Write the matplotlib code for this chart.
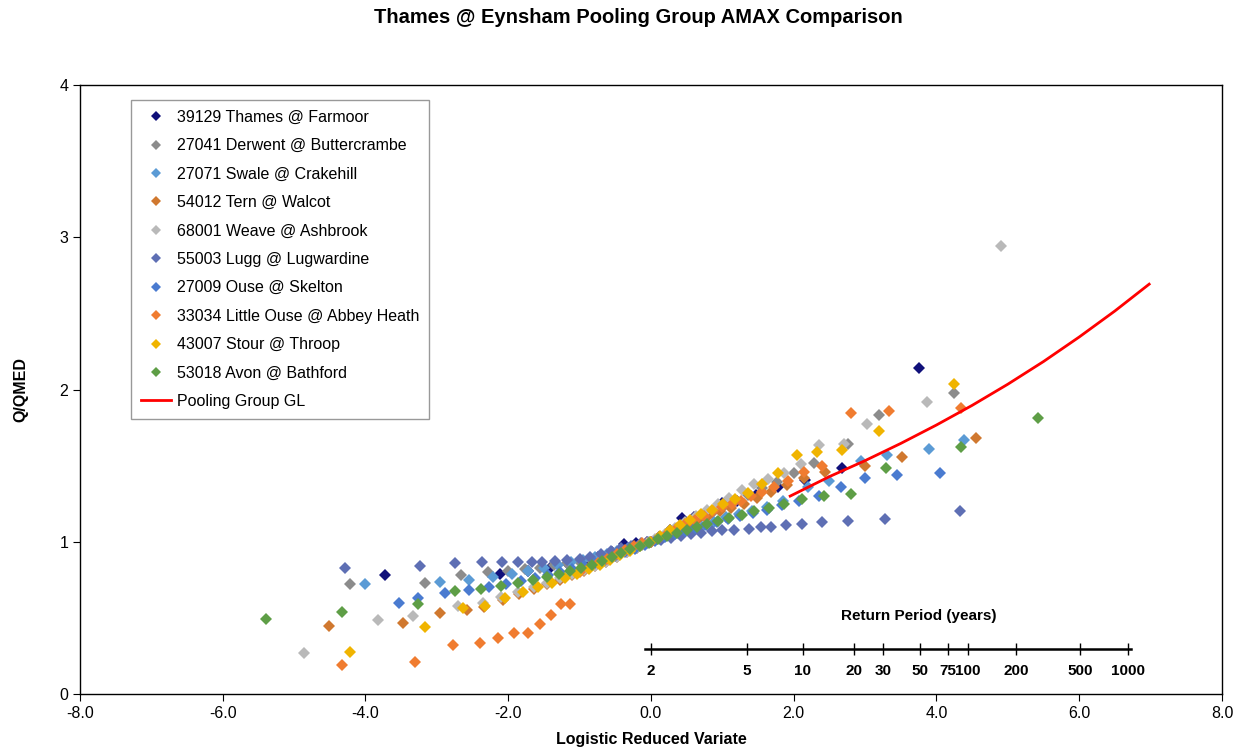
import numpy as np
import matplotlib
matplotlib.use("Agg")
import matplotlib.pyplot as plt
from matplotlib.ticker import FormatStrFormatter

plt.rcParams['font.family'] = ['Liberation Sans', 'DejaVu Sans']

# AMAX growth factors (Q/QMED) against logistic reduced variate, one list pair per site
thames_x = [-3.73, -2.11, -1.72, -1.42, -1.16, -0.94, -0.74, -0.55, -0.38, -0.21, -0.05, 0.11,
            0.27, 0.43, 0.60, 0.78, 0.99, 1.21, 1.47, 1.78, 2.16, 2.68, 3.75]
thames_y = [0.78, 0.787, 0.81, 0.83, 0.855, 0.87, 0.90, 0.93, 0.985, 0.99, 1.0, 1.03,
            1.08, 1.159, 1.16, 1.20, 1.254, 1.27, 1.305, 1.36, 1.408, 1.486, 2.14]

derwent_x = [-4.21, -3.17, -2.66, -2.29, -2.0, -1.76, -1.55, -1.36, -1.18, -1.01, -0.85, -0.7,
             -0.55, -0.41, -0.27, -0.13, 0.0, 0.13, 0.27, 0.41, 0.55, 0.7, 0.85, 1.01,
             1.18, 1.36, 1.55, 1.76, 2.0, 2.29, 2.76, 3.20, 4.24]
derwent_y = [0.721, 0.726, 0.78, 0.80, 0.81, 0.82, 0.83, 0.845, 0.86, 0.875, 0.89, 0.905,
             0.92, 0.94, 0.96, 0.98, 1.0, 1.03, 1.06, 1.09, 1.12, 1.16, 1.19, 1.23,
             1.27, 1.31, 1.35, 1.39, 1.45, 1.52, 1.643, 1.83, 1.98]

swale_x = [-4.01, -2.96, -2.55, -2.22, -1.95, -1.72, -1.5, -1.3, -1.12, -0.95, -0.78, -0.62,
           -0.47, -0.32, -0.17, -0.03, 0.12, 0.26, 0.41, 0.56, 0.72, 0.88, 1.05, 1.23,
           1.42, 1.62, 1.85, 2.2, 2.5, 2.94, 3.31, 3.89, 4.39]
swale_y = [0.72, 0.736, 0.75, 0.77, 0.79, 0.81, 0.83, 0.85, 0.865, 0.88, 0.90, 0.92,
           0.94, 0.96, 0.98, 1.0, 1.02, 1.04, 1.06, 1.08, 1.10, 1.13, 1.16, 1.18,
           1.20, 1.23, 1.27, 1.36, 1.40, 1.53, 1.57, 1.61, 1.67]

tern_x = [-4.51, -3.47, -2.95, -2.58, -2.34, -2.08, -1.85, -1.64, -1.45, -1.27, -1.1, -0.94,
          -0.78, -0.63, -0.48, -0.34, -0.2, -0.06, 0.08, 0.22, 0.36, 0.5, 0.65, 0.8,
          0.96, 1.12, 1.3, 1.48, 1.68, 1.9, 2.15, 2.44, 3.0, 3.51, 4.56]
tern_y = [0.446, 0.464, 0.53, 0.55, 0.572, 0.62, 0.66, 0.69, 0.72, 0.75, 0.78, 0.81,
          0.84, 0.87, 0.9, 0.93, 0.96, 0.99, 1.02, 1.05, 1.08, 1.11, 1.14, 1.17,
          1.2, 1.22, 1.25, 1.29, 1.33, 1.37, 1.42, 1.46, 1.495, 1.56, 1.683]

weave_x = [-4.86, -3.83, -3.33, -2.70, -2.36, -2.1, -1.86, -1.64, -1.45, -1.27, -1.1, -0.94,
           -0.78, -0.63, -0.48, -0.34, -0.2, -0.06, 0.06, 0.2, 0.34, 0.48, 0.63, 0.78,
           0.94, 1.1, 1.27, 1.45, 1.64, 1.86, 2.1, 2.36, 2.7, 3.02, 3.87, 4.91]
weave_y = [0.267, 0.485, 0.51, 0.577, 0.60, 0.64, 0.67, 0.70, 0.73, 0.76, 0.79, 0.815,
           0.84, 0.87, 0.9, 0.93, 0.96, 0.99, 1.02, 1.05, 1.09, 1.13, 1.17, 1.21,
           1.25, 1.29, 1.34, 1.38, 1.41, 1.45, 1.508, 1.633, 1.643, 1.775, 1.92, 2.94]

lugg_x = [-4.29, -3.23, -2.74, -2.37, -2.09, -1.86, -1.67, -1.52, -1.35, -1.17, -0.99, -0.85,
          -0.7, -0.56, -0.42, -0.28, -0.14, 0.0, 0.14, 0.28, 0.42, 0.56, 0.7, 0.85,
          0.99, 1.17, 1.38, 1.54, 1.68, 1.89, 2.12, 2.40, 2.76, 3.28, 4.33]
lugg_y = [0.831, 0.84, 0.861, 0.868, 0.868, 0.87, 0.87, 0.87, 0.875, 0.88, 0.89, 0.90,
          0.92, 0.94, 0.96, 0.975, 0.99, 1.0, 1.01, 1.025, 1.04, 1.05, 1.06, 1.07,
          1.075, 1.08, 1.087, 1.097, 1.10, 1.108, 1.117, 1.13, 1.137, 1.15, 1.20]

ouse_x = [-3.53, -3.27, -2.89, -2.55, -2.27, -2.03, -1.82, -1.62, -1.44, -1.27, -1.1, -0.94,
          -0.79, -0.64, -0.5, -0.36, -0.22, -0.08, 0.06, 0.2, 0.34, 0.48, 0.62, 0.77,
          0.92, 1.08, 1.25, 1.43, 1.62, 1.84, 2.08, 2.36, 2.66, 3.0, 3.45, 4.05]
ouse_y = [0.60, 0.63, 0.664, 0.68, 0.70, 0.72, 0.74, 0.76, 0.78, 0.8, 0.82, 0.84,
          0.86, 0.88, 0.905, 0.93, 0.955, 0.98, 1.005, 1.03, 1.05, 1.07, 1.09, 1.11,
          1.13, 1.15, 1.17, 1.19, 1.21, 1.24, 1.27, 1.3, 1.36, 1.42, 1.44, 1.45]

little_ouse_x = [-4.33, -3.30, -2.77, -2.40, -2.15, -1.92, -1.73, -1.55, -1.40, -1.26, -1.13,
                 -1.0, -0.87, -0.74, -0.61, -0.48, -0.36, -0.24, -0.12, 0.0, 0.12, 0.24,
                 0.36, 0.48, 0.61, 0.74, 0.87, 1.0, 1.13, 1.26, 1.4, 1.55, 1.73, 1.92,
                 2.15, 2.4, 2.8, 3.33, 4.35]
little_ouse_y = [0.19, 0.212, 0.321, 0.336, 0.365, 0.40, 0.40, 0.46, 0.518, 0.59, 0.593,
                 0.80, 0.83, 0.86, 0.89, 0.92, 0.945, 0.97, 0.99, 1.0, 1.03, 1.06,
                 1.09, 1.12, 1.14, 1.17, 1.2, 1.23, 1.25, 1.27, 1.3, 1.33, 1.36, 1.40,
                 1.46, 1.50, 1.845, 1.862, 1.88]

stour_x = [-4.21, -3.17, -2.64, -2.33, -2.05, -1.8, -1.58, -1.38, -1.2, -1.03, -0.87, -0.72,
           -0.57, -0.43, -0.29, -0.15, -0.01, 0.13, 0.27, 0.41, 0.55, 0.7, 0.85, 1.01,
           1.18, 1.36, 1.55, 1.78, 2.04, 2.32, 2.68, 3.20, 4.24]
stour_y = [0.277, 0.437, 0.562, 0.58, 0.63, 0.67, 0.70, 0.73, 0.76, 0.79, 0.82, 0.85,
           0.88, 0.91, 0.94, 0.97, 1.0, 1.04, 1.08, 1.11, 1.14, 1.18, 1.21, 1.25,
           1.28, 1.32, 1.38, 1.45, 1.567, 1.589, 1.60, 1.727, 2.033]

avon_x = [-5.40, -4.33, -3.27, -2.75, -2.38, -2.1, -1.86, -1.65, -1.46, -1.29, -1.13, -0.98,
          -0.83, -0.69, -0.55, -0.42, -0.29, -0.16, -0.03, 0.1, 0.23, 0.36, 0.5, 0.64,
          0.79, 0.94, 1.1, 1.27, 1.45, 1.65, 1.87, 2.12, 2.42, 2.80, 3.29, 4.35, 5.42]
avon_y = [0.496, 0.54, 0.59, 0.677, 0.69, 0.71, 0.73, 0.75, 0.77, 0.79, 0.81, 0.83,
          0.85, 0.875, 0.9, 0.925, 0.95, 0.97, 0.995, 1.015, 1.035, 1.055, 1.075, 1.095,
          1.115, 1.135, 1.155, 1.175, 1.2, 1.22, 1.25, 1.28, 1.3, 1.316, 1.484, 1.62, 1.81]

# pooling group GL growth curve
gl_x = [1.95, 2.5, 3.0, 3.5, 4.0, 4.5, 5.0, 5.5, 6.0, 6.5, 6.98]
gl_y = [1.30, 1.428, 1.533, 1.646, 1.767, 1.896, 2.035, 2.184, 2.345, 2.516, 2.692]

# return periods shown on the secondary scale
return_periods = [2, 5, 10, 20, 30, 50, 75, 100, 200, 500, 1000]

series = [
    ("39129 Thames @ Farmoor", thames_x, thames_y, "#10107a"),
    ("27041 Derwent @ Buttercrambe", derwent_x, derwent_y, "#8c8c8c"),
    ("27071 Swale @ Crakehill", swale_x, swale_y, "#5b9bd5"),
    ("54012 Tern @ Walcot", tern_x, tern_y, "#d0782f"),
    ("68001 Weave @ Ashbrook", weave_x, weave_y, "#b9b9b9"),
    ("55003 Lugg @ Lugwardine", lugg_x, lugg_y, "#5e6fb4"),
    ("27009 Ouse @ Skelton", ouse_x, ouse_y, "#4a7bd0"),
    ("33034 Little Ouse @ Abbey Heath", little_ouse_x, little_ouse_y, "#f07c30"),
    ("43007 Stour @ Throop", stour_x, stour_y, "#f0b400"),
    ("53018 Avon @ Bathford", avon_x, avon_y, "#5e9e46"),
]

fig = plt.figure(figsize=(12.44, 7.49), dpi=100)
ax = fig.add_axes([0.0643, 0.0734, 0.918, 0.8131])

for label, xs, ys, col in series:
    ax.plot(xs, ys, ls="none", marker="D", ms=6.3, mew=0, color=col, label=label)
ax.plot(gl_x, gl_y, color="#ff0000", lw=2, label="Pooling Group GL")

ax.set_xlim(-8, 8)
ax.set_ylim(0, 4)
ax.set_xticks(np.arange(-8, 9, 2))
ax.set_yticks([0, 1, 2, 3, 4])
ax.xaxis.set_major_formatter(FormatStrFormatter("%.1f"))
ax.tick_params(direction="out", length=5, labelsize=11.5)
for sp in ax.spines.values():
    sp.set_linewidth(1.0)
ax.set_xlabel("Logistic Reduced Variate", fontweight="bold", fontsize=11.5, labelpad=8)
ax.set_ylabel("Q/QMED", fontweight="bold", fontsize=11.5, labelpad=22)

leg = ax.legend(loc="upper left", bbox_to_anchor=(0.045, 0.975), borderaxespad=0,
                frameon=True, fancybox=False, edgecolor="#808080", fontsize=11.5,
                labelspacing=0.84, handlelength=1.9, handletextpad=0.35,
                borderpad=0.6, markerscale=0.75)
leg.get_frame().set_linewidth(1.0)

# return period scale: logistic reduced variate = ln(T - 1)
rp_lo, rp_hi = -0.085, 6.95
ax2 = ax.inset_axes([rp_lo * 0.967, 0.295, (rp_hi - rp_lo) * 0.967, 0.0001],
                    transform=ax.transData)
ax2.set_xlim(rp_lo, rp_hi)
ax2.patch.set_visible(False)
for side in ("top", "left", "right"):
    ax2.spines[side].set_visible(False)
ax2.spines["bottom"].set_linewidth(1.8)
ax2.yaxis.set_visible(False)
ax2.set_xticks(np.log(np.array(return_periods) - 1.0))
ax2.set_xticklabels([str(t) for t in return_periods], fontweight="bold")
ax2.tick_params(axis="x", which="both", direction="inout", length=8, width=1,
                labelsize=11, pad=7)
ax.text(3.75, 0.51, "Return Period (years)", ha="center", va="center",
        fontweight="bold", fontsize=11)

fig.text(0.513, 0.976, "Thames @ Eynsham Pooling Group AMAX Comparison",
         ha="center", va="center", fontweight="bold", fontsize=14.5)

fig.savefig("out.png", dpi=100)
